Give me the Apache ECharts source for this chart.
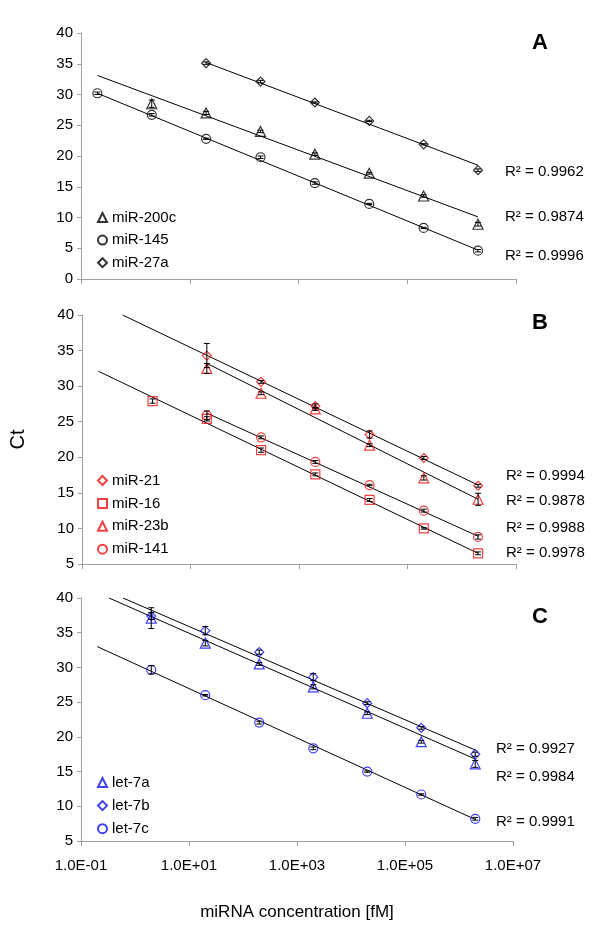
<!DOCTYPE html>
<html>
<head>
<meta charset="utf-8">
<script src="https://cdn.jsdelivr.net/npm/echarts@6/dist/echarts.min.js"></script>
<style>
  html, body { margin: 0; padding: 0; background: #fff; }
  #chart { width: 600px; height: 943px; }
</style>
</head>
<body>
<div id="chart"></div>
<script>
// miRNA concentration [fM] of the dilution series
var conc = [0.2, 2, 20, 200, 2000, 2e4, 2e5, 2e6];
var xTicks = [0.1, 10, 1000, 1e5, 1e7];

// panel A (first point index into conc, Ct means, SD)
var a200c = { start: 1, ct: [28.5, 27.0, 24.0, 20.3, 17.2, 13.5, 8.9], sd: [0.6, 0.25, 0.2, 0.2, 0.15, 0.2, 0.3] };
var a145 = { start: 0, ct: [30.2, 26.7, 22.8, 19.8, 15.6, 12.2, 8.3, 4.6], sd: [0.2, 0.2, 0.1, 0.2, 0.2, 0.1, 0.1, 0.2] };
var a27a = { start: 2, ct: [35.1, 32.1, 28.7, 25.7, 21.9, 17.7], sd: [0.2, 0.2, 0.1, 0.1, 0.1, 0.2] };

// panel B
var b21 = { start: 2, ct: [34.3, 30.6, 27.2, 23.2, 19.9, 16.0], sd: [1.7, 0.2, 0.3, 0.5, 0.2, 0.2] };
var b16 = { start: 1, ct: [27.9, 25.4, 21.0, 17.6, 14.0, 10.0, 6.5], sd: [0.3, 0.3, 0.3, 0.2, 0.2, 0.1, 0.2] };
var b23b = { start: 2, ct: [32.5, 29.0, 26.8, 21.7, 17.1, 14.1], sd: [0.7, 0.2, 0.2, 0.2, 0.3, 0.85] };
var b141 = { start: 2, ct: [25.9, 22.8, 19.35, 16.1, 12.5, 8.8], sd: [0.6, 0.2, 0.2, 0.1, 0.2, 0.3] };

// panel C
var c7a = { start: 1, ct: [37.1, 33.5, 30.5, 27.2, 23.4, 19.3, 16.1], sd: [1.5, 0.4, 0.2, 0.3, 0.2, 0.2, 0.5] };
var c7b = { start: 1, ct: [37.4, 35.3, 32.2, 28.6, 24.85, 21.3, 17.5], sd: [0.5, 0.6, 0.3, 0.5, 0.2, 0.2, 0.3] };
var c7c = { start: 1, ct: [29.65, 26.0, 22.05, 18.35, 15.0, 11.7, 8.2], sd: [0.6, 0.1, 0.2, 0.2, 0.1, 0.1, 0.2] };

// trend line end points [conc, Ct]
var fitA200c = [[0.2, 33.1], [2e6, 10.1]];
var fitA145 = [[0.2, 30.2], [2e6, 4.7]];
var fitA27a = [[20, 35.2], [2e6, 18.5]];
var fitB21 = [[0.56, 40], [2e6, 16.1]];
var fitB16 = [[0.2, 32.1], [2e6, 6.5]];
var fitB23b = [[20, 33.2], [2e6, 14.1]];
var fitB141 = [[20, 26.2], [2e6, 8.9]];
var fitC7a = [[0.33, 40], [2e6, 16.8]];
var fitC7b = [[0.6, 40], [2e6, 18.1]];
var fitC7c = [[0.2, 33.0], [2e6, 8.1]];

var r2A = ['R² = 0.9962', 'R² = 0.9874', 'R² = 0.9996'];
var r2B = ['R² = 0.9994', 'R² = 0.9878', 'R² = 0.9988', 'R² = 0.9978'];
var r2C = ['R² = 0.9927', 'R² = 0.9984', 'R² = 0.9991'];

var FONT = '"Liberation Sans", Arial, sans-serif';
var AXIS_GREY = '#a0a0a0';

function sciLabel(v) {
  var s = v.toExponential(1).split('e');
  var e = parseInt(s[1], 10);
  return s[0] + 'E' + (e < 0 ? '-' : '+') + String(Math.abs(e)).padStart(2, '0');
}

function pts(d) {
  return d.ct.map(function (y, i) { return [conc[d.start + i], y]; });
}

var series = [];

function addSet(gi, name, d, symbol, color, fit) {
  series.push({
    type: 'line', xAxisIndex: gi, yAxisIndex: gi, data: fit,
    showSymbol: false, silent: true, z: 2,
    lineStyle: { color: '#000', width: 1 }
  });
  series.push({
    type: 'scatter', name: name, xAxisIndex: gi, yAxisIndex: gi, data: pts(d),
    symbol: symbol, symbolSize: symbol === 'triangle' ? [10, 10] : 9, z: 3,
    itemStyle: { color: 'rgba(255,255,255,0)', borderColor: color, borderWidth: 1.2 }
  });
  series.push({
    type: 'custom', xAxisIndex: gi, yAxisIndex: gi, silent: true, z: 4,
    encode: { x: 0, y: [1, 2] },
    data: d.ct.map(function (y, i) { return [conc[d.start + i], y - d.sd[i], y + d.sd[i]]; }),
    renderItem: function (params, api) {
      var lo = api.coord([api.value(0), api.value(1)]);
      var hi = api.coord([api.value(0), api.value(2)]);
      var w = 3;
      var st = { stroke: '#000', lineWidth: 1 };
      return {
        type: 'group', children: [
          { type: 'line', shape: { x1: lo[0], y1: lo[1], x2: hi[0], y2: hi[1] }, style: st },
          { type: 'line', shape: { x1: lo[0] - w, y1: lo[1], x2: lo[0] + w, y2: lo[1] }, style: st },
          { type: 'line', shape: { x1: hi[0] - w, y1: hi[1], x2: hi[0] + w, y2: hi[1] }, style: st }
        ]
      };
    }
  });
}

addSet(0, 'miR-200c', a200c, 'triangle', '#000', fitA200c);
addSet(0, 'miR-145', a145, 'circle', '#000', fitA145);
addSet(0, 'miR-27a', a27a, 'diamond', '#000', fitA27a);
addSet(1, 'miR-21', b21, 'diamond', '#f01010', fitB21);
addSet(1, 'miR-16', b16, 'rect', '#f01010', fitB16);
addSet(1, 'miR-23b', b23b, 'triangle', '#f01010', fitB23b);
addSet(1, 'miR-141', b141, 'circle', '#f01010', fitB141);
addSet(2, 'let-7a', c7a, 'triangle', '#1010f0', fitC7a);
addSet(2, 'let-7b', c7b, 'diamond', '#1010f0', fitC7b);
addSet(2, 'let-7c', c7c, 'circle', '#1010f0', fitC7c);

var grids = [
  { left: 81, top: 33, width: 435, height: 246 },
  { left: 81, top: 315, width: 435, height: 249 },
  { left: 81, top: 598, width: 432, height: 243 }
];

function xAxis(gi, labels) {
  var ax = {
    type: 'log', logBase: 10, gridIndex: gi, min: 0.1, max: 1e7,
    axisLine: { lineStyle: { color: AXIS_GREY } },
    axisTick: { show: true, length: 5, customValues: xTicks, lineStyle: { color: AXIS_GREY } },
    axisLabel: {
      show: labels, customValues: xTicks, margin: 17, formatter: sciLabel,
      color: '#000', fontSize: 15, fontFamily: FONT
    },
    splitLine: { show: false },
    minorTick: { show: false }
  };
  if (labels) {
    ax.name = 'miRNA concentration [fM]';
    ax.nameLocation = 'middle';
    ax.nameGap = 63;
    ax.nameTextStyle = { color: '#000', fontSize: 17, fontFamily: FONT };
  }
  return ax;
}

function yAxis(gi, min) {
  var ax = {
    type: 'value', gridIndex: gi, min: min, max: 40, interval: 5,
    axisLine: { show: true, lineStyle: { color: AXIS_GREY } },
    axisTick: { show: true, length: 4, lineStyle: { color: AXIS_GREY } },
    axisLabel: { color: '#000', fontSize: 15, fontFamily: FONT, margin: 8 },
    splitLine: { show: false }
  };
  if (gi === 1) {
    ax.name = 'Ct';
    ax.nameLocation = 'middle';
    ax.nameGap = 54;
    ax.nameTextStyle = { color: '#000', fontSize: 20, fontFamily: FONT };
  }
  return ax;
}

function legend(names, top, gap) {
  return {
    data: names, orient: 'vertical', left: 92, top: top,
    itemWidth: 9, itemHeight: 9, itemGap: gap, selectedMode: false,
    textStyle: { color: '#000', fontSize: 15, fontFamily: FONT }
  };
}

function txt(x, y, s, size, bold, align) {
  return {
    type: 'text', x: x, y: y, silent: true,
    style: {
      text: s, fill: '#000', font: (bold ? 'bold ' : '') + size + 'px ' + FONT,
      textAlign: align || 'left', textVerticalAlign: 'middle'
    }
  };
}

var graphics = [
  txt(540, 43, 'A', 22, true, 'center'),
  txt(540, 323, 'B', 22, true, 'center'),
  txt(540, 617, 'C', 22, true, 'center')
];
[172, 217, 256].forEach(function (y, i) { graphics.push(txt(505, y, r2A[i], 15)); });
[476, 501, 528, 553].forEach(function (y, i) { graphics.push(txt(506, y, r2B[i], 15)); });
[749, 777, 822].forEach(function (y, i) { graphics.push(txt(496, y, r2C[i], 15)); });

var chart = echarts.init(document.getElementById('chart'), null, { renderer: 'canvas' });
chart.setOption({
  backgroundColor: '#fff',
  animation: false,
  grid: grids,
  xAxis: [xAxis(0, false), xAxis(1, false), xAxis(2, true)],
  yAxis: [yAxis(0, 0), yAxis(1, 5), yAxis(2, 5)],
  legend: [
    legend(['miR-200c', 'miR-145', 'miR-27a'], 205, 7.6),
    legend(['miR-21', 'miR-16', 'miR-23b', 'miR-141'], 468, 7.9),
    legend(['let-7a', 'let-7b', 'let-7c'], 770, 8.1)
  ],
  graphic: graphics,
  series: series
});
</script>
</body>
</html>
